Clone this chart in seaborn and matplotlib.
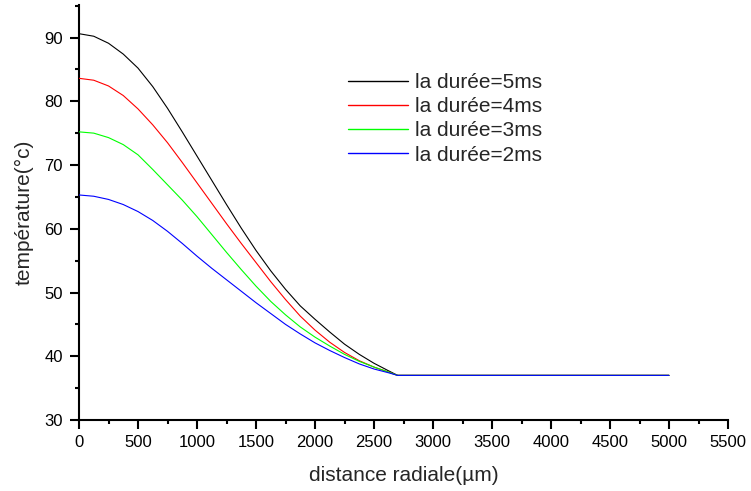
import matplotlib
matplotlib.use("Agg")
import matplotlib.pyplot as plt
from matplotlib.ticker import MultipleLocator
import pandas as pd
import seaborn as sns

# Radial positions (µm) and temperature profiles (°C) for each pulse duration
distance = [0, 125, 250, 375, 500, 625, 750, 875, 1000, 1125, 1250, 1375, 1500,
            1625, 1750, 1875, 2000, 2125, 2250, 2375, 2500, 2625, 2700, 5000]
temp_5ms = [90.6, 90.2, 89.1, 87.4, 85.2, 82.3, 78.9, 75.2, 71.4, 67.6, 63.8, 60.1,
            56.6, 53.4, 50.5, 47.9, 45.8, 43.8, 41.9, 40.3, 38.9, 37.7, 37.0, 37.0]
temp_4ms = [83.6, 83.3, 82.4, 80.9, 78.8, 76.3, 73.5, 70.4, 67.2, 64.0, 60.8, 57.7,
            54.7, 51.7, 48.9, 46.3, 44.1, 42.2, 40.6, 39.3, 38.3, 37.5, 37.0, 37.0]
temp_3ms = [75.2, 75.0, 74.3, 73.2, 71.6, 69.3, 66.9, 64.5, 61.9, 59.1, 56.3, 53.6,
            51.0, 48.6, 46.5, 44.6, 43.0, 41.6, 40.3, 39.2, 38.3, 37.5, 37.0, 37.0]
temp_2ms = [65.3, 65.1, 64.6, 63.8, 62.7, 61.3, 59.6, 57.7, 55.7, 53.8, 52.0, 50.2,
            48.4, 46.7, 45.0, 43.5, 42.1, 40.9, 39.8, 38.8, 38.0, 37.4, 37.0, 37.0]

labels = ["la durée=5ms", "la durée=4ms", "la durée=3ms", "la durée=2ms"]
colors = ["#000000", "#ff0000", "#00ff00", "#0000ff"]
series = [temp_5ms, temp_4ms, temp_3ms, temp_2ms]

sns.set_style("white")
plt.rcParams["font.family"] = ["Liberation Sans", "DejaVu Sans"]

fig = plt.figure(figsize=(7.51, 4.91), dpi=100)
ax = fig.add_axes([79 / 751, 1 - 420 / 491, (728 - 79) / 751, (420 - 5) / 491])

# one curve per pulse duration, later (shorter) pulses stacked on top
for i, (lab, col, vals) in enumerate(zip(labels, colors, series)):
    df = pd.DataFrame({"distance": distance, "temperature": vals})
    sns.lineplot(data=df, x="distance", y="temperature", color=col,
                 linewidth=0.8, label=lab, estimator=None, sort=False,
                 zorder=2 + i, ax=ax)

ax.set_xlim(0, 5500)
ax.set_ylim(30, 95.1)
ax.xaxis.set_major_locator(MultipleLocator(500))
ax.xaxis.set_minor_locator(MultipleLocator(250))
ax.yaxis.set_major_locator(MultipleLocator(10))
ax.yaxis.set_minor_locator(MultipleLocator(5))

for side in ("top", "right"):
    ax.spines[side].set_visible(False)
for side in ("left", "bottom"):
    ax.spines[side].set_linewidth(1.5)
    ax.spines[side].set_color("black")

ax.tick_params(which="major", direction="out", length=6.5, width=1.5,
               labelsize=12, colors="black", bottom=True, left=True)
ax.tick_params(axis="y", which="major", pad=5)
ax.tick_params(axis="x", which="major", pad=4)
ax.tick_params(which="minor", direction="out", length=3, width=1.5,
               bottom=True, left=True, colors="black")

ax.set_xlabel("distance radiale(µm)", fontsize=15, labelpad=12)
ax.set_ylabel("température(°c)", fontsize=15, labelpad=8)

leg = ax.legend(loc="upper left", bbox_to_anchor=(348 / 751, 1 - 73 / 491),
                bbox_transform=fig.transFigure, frameon=False, fontsize=15,
                handlelength=2.9, handletextpad=0.3, labelspacing=0.25,
                borderpad=0, borderaxespad=0)
for line in leg.get_lines():
    line.set_linewidth(1.0)

fig.savefig("out.png", dpi=100)
